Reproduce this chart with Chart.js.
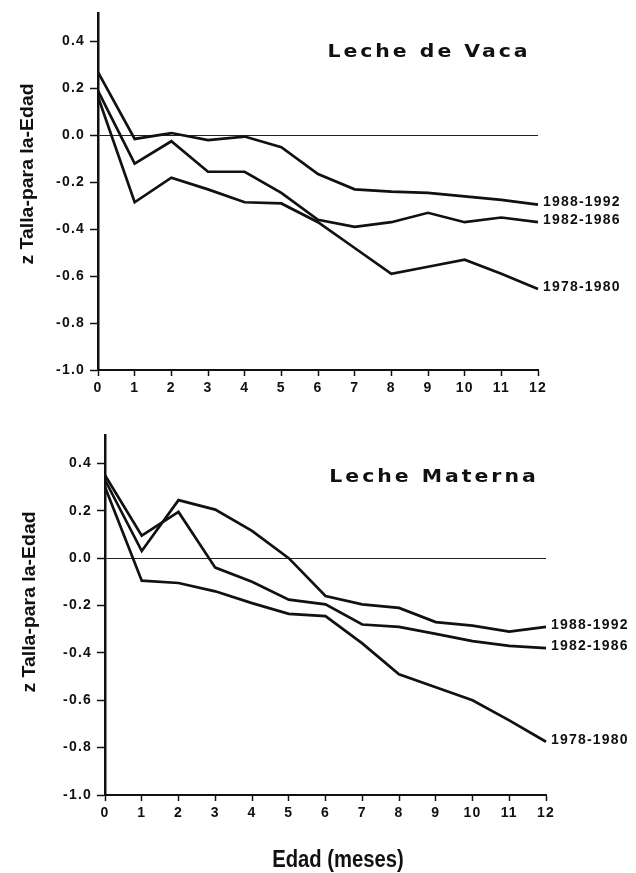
<!DOCTYPE html>
<html>
<head>
<meta charset="utf-8">
<script src="https://cdn.jsdelivr.net/npm/chart.js@4.4.1/dist/chart.umd.min.js"></script>
<style>
  html, body { margin: 0; padding: 0; background: #fff; }
  #page { position: relative; width: 636px; height: 873px; overflow: hidden; }
  .box { position: absolute; left: 0; width: 636px; }
</style>
</head>
<body>
<div id="page">
  <div class="box" style="top:0; height:410px;"><canvas id="vacaChart"></canvas></div>
  <div class="box" style="top:420px; height:453px;"><canvas id="maternaChart"></canvas></div>
</div>
<script>
// ---------- Données (z Talla-para-la-Edad) ----------
const months = ['0', '1', '2', '3', '4', '5', '6', '7', '8', '9', '10', '11', '12'];
const yTicks = [-1.0, -0.8, -0.6, -0.4, -0.2, 0.0, 0.2, 0.4];
const seriesNames = ['1988-1992', '1982-1986', '1978-1980'];

// Leche de Vaca
const vaca1988 = [0.27, -0.015, 0.01, -0.02, -0.005, -0.05, -0.165, -0.23, -0.24, -0.245, -0.26, -0.275, -0.295];
const vaca1982 = [0.19, -0.12, -0.025, -0.155, -0.155, -0.245, -0.36, -0.39, -0.37, -0.33, -0.37, -0.35, -0.37];
const vaca1978 = [0.165, -0.285, -0.18, -0.23, -0.285, -0.29, -0.37, -0.48, -0.59, -0.56, -0.53, -0.59, -0.655];

// Leche Materna
const materna1988 = [0.33, 0.03, 0.245, 0.205, 0.115, 0.0, -0.16, -0.195, -0.21, -0.27, -0.285, -0.31, -0.29];
const materna1982 = [0.35, 0.095, 0.195, -0.04, -0.1, -0.175, -0.195, -0.28, -0.29, -0.32, -0.35, -0.37, -0.38];
const materna1978 = [0.30, -0.095, -0.105, -0.14, -0.19, -0.235, -0.245, -0.36, -0.49, -0.545, -0.60, -0.685, -0.775];

const yTitle = 'z Talla-para la-Edad';
const xTitle = 'Edad (meses)';

const INK = '#111';
const FONT = '"Liberation Sans", Arial, sans-serif';
const WIDE_FONT = '"DejaVu Sans", "Liberation Sans", sans-serif';

// ---------- Plugin : textes (titre, étiquettes des séries, titres d'axes) ----------
const textPlugin = {
  id: 'textes',
  beforeDraw(chart) {
    chart.ctx.letterSpacing = '1.2px';
  },
  afterDraw(chart, args, opts) {
    const ctx = chart.ctx;

    // étiquettes en bout de courbe
    ctx.save();
    ctx.fillStyle = INK;
    ctx.font = 'bold 14px ' + FONT;
    ctx.letterSpacing = '1.2px';
    ctx.textAlign = 'left';
    ctx.textBaseline = 'middle';
    chart.data.datasets.forEach((ds, i) => {
      const pts = chart.getDatasetMeta(i).data;
      const last = pts[pts.length - 1];
      ctx.fillText(ds.label, last.x + 5, last.y - 2);
    });
    ctx.restore();

    // titre du panneau (police large et grasse)
    ctx.save();
    ctx.fillStyle = INK;
    ctx.font = 'bold 17px ' + WIDE_FONT;
    ctx.letterSpacing = '2.5px';
    ctx.textAlign = 'center';
    ctx.textBaseline = 'middle';
    ctx.translate(opts.titleX, opts.titleY);
    ctx.scale(1.2, 1);
    ctx.fillText(opts.title, 0, 0);
    ctx.restore();

    // titre de l'axe Y (vertical)
    ctx.save();
    ctx.fillStyle = INK;
    ctx.font = 'bold 18px ' + FONT;
    ctx.letterSpacing = '0px';
    ctx.textAlign = 'center';
    ctx.textBaseline = 'middle';
    ctx.translate(opts.yTitleX, opts.yTitleY);
    ctx.rotate(-Math.PI / 2);
    ctx.scale(1.08, 1);
    ctx.fillText(yTitle, 0, 0);
    ctx.restore();

    // titre de l'axe X (seulement le panneau du bas)
    if (opts.showXTitle) {
      ctx.save();
      ctx.fillStyle = INK;
      ctx.font = 'bold 23px ' + FONT;
      ctx.letterSpacing = '0px';
      ctx.textAlign = 'center';
      ctx.textBaseline = 'middle';
      ctx.translate(opts.xTitleX, opts.xTitleY);
      ctx.scale(0.88, 1);
      ctx.fillText(xTitle, 0, 0);
      ctx.restore();
    }
  }
};

function makeDatasets(a, b, c) {
  return [a, b, c].map((vals, i) => ({
    label: seriesNames[i],
    data: vals,
    borderColor: INK,
    backgroundColor: 'transparent',
    borderWidth: 2.7,
    pointRadius: 0,
    tension: 0
  }));
}

function makeChart(canvasId, datasets, cfg) {
  const ctx = document.getElementById(canvasId).getContext('2d');
  return new Chart(ctx, {
    type: 'line',
    data: { labels: months, datasets: datasets },
    plugins: [textPlugin],
    options: {
      responsive: true,
      maintainAspectRatio: false,
      animation: false,
      layout: { padding: { top: cfg.padTop, right: cfg.padRight, left: 0, bottom: 0 } },
      plugins: {
        legend: { display: false },
        tooltip: { enabled: false },
        textes: cfg.text
      },
      scales: {
        x: {
          type: 'category',
          offset: false,
          afterFit(scale) { scale.height = cfg.xHeight; },
          grid: { drawOnChartArea: false, drawTicks: true, tickLength: 6, tickColor: INK, tickWidth: 1.5 },
          border: { display: true, color: INK, width: 2 },
          ticks: {
            color: INK,
            font: { family: FONT, size: 14, weight: 'bold' },
            padding: 4,
            maxRotation: 0,
            autoSkip: false
          }
        },
        y: {
          min: -1.0,
          max: 0.52,
          afterFit(scale) { scale.width = cfg.yWidth; },
          afterBuildTicks(scale) { scale.ticks = yTicks.map(v => ({ value: v })); },
          grid: {
            drawOnChartArea: true,
            color: c => (c.tick && Math.abs(c.tick.value) < 1e-9) ? '#222' : 'rgba(0,0,0,0)',
            lineWidth: 1,
            tickLength: 8,
            tickColor: INK,
            tickWidth: 1.5
          },
          border: { display: true, color: INK, width: 2.5 },
          ticks: {
            color: INK,
            font: { family: FONT, size: 14, weight: 'bold' },
            padding: 5,
            callback: v => v.toFixed(1)
          }
        }
      }
    }
  });
}

// Panneau du haut : Leche de Vaca
makeChart('vacaChart', makeDatasets(vaca1988, vaca1982, vaca1978), {
  padTop: 12, padRight: 98, xHeight: 40, yWidth: 98,
  text: { title: 'Leche de Vaca', titleX: 429, titleY: 53, yTitleX: 28, yTitleY: 174, showXTitle: false }
});

// Panneau du bas : Leche Materna
makeChart('maternaChart', makeDatasets(materna1988, materna1982, materna1978), {
  padTop: 15, padRight: 90, xHeight: 78, yWidth: 105,
  text: { title: 'Leche Materna', titleX: 434, titleY: 58, yTitleX: 30, yTitleY: 182,
          showXTitle: true, xTitleX: 338, xTitleY: 441 }
});
</script>
</body>
</html>
